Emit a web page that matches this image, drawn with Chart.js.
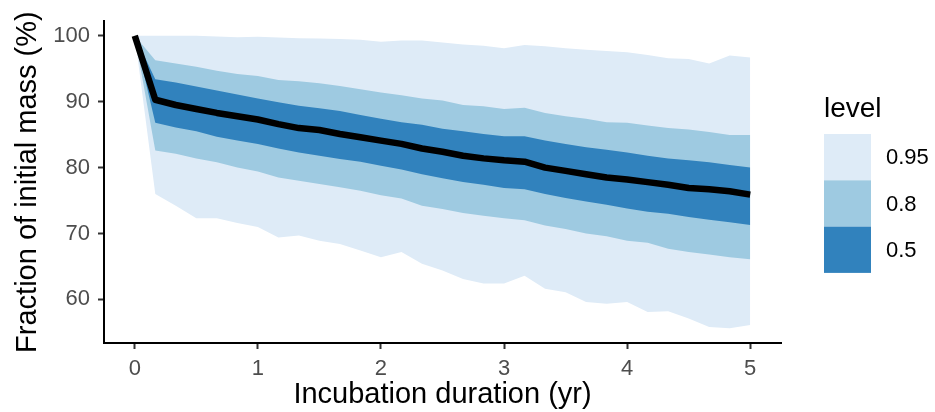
<!DOCTYPE html>
<html>
<head>
<meta charset="utf-8">
<script src="https://cdn.jsdelivr.net/npm/chart.js@4.4.1/dist/chart.umd.min.js"></script>
<style>
	html, body { margin: 0; padding: 0; background: #ffffff; }
	#wrap { width: 935px; height: 412px; position: relative; }
</style>
</head>
<body>
<div id="wrap"><canvas id="chart" width="935" height="412"></canvas></div>
<script>
//incubation time points, every two months
var years = [0, 0.1667, 0.3333, 0.5, 0.6667, 0.8333, 1, 1.1667, 1.3333, 1.5, 1.6667, 1.8333,
	2, 2.1667, 2.3333, 2.5, 2.6667, 2.8333, 3, 3.1667, 3.3333, 3.5, 3.6667, 3.8333,
	4, 4.1667, 4.3333, 4.5, 4.6667, 4.8333, 5];

//median fraction of initial mass (%)
var median = [100, 90.3, 89.5, 88.9, 88.3, 87.8, 87.3, 86.6, 86.0, 85.7, 85.1, 84.6,
	84.1, 83.6, 82.9, 82.4, 81.8, 81.4, 81.1, 80.9, 80.0, 79.5, 79.0, 78.5,
	78.2, 77.8, 77.4, 76.9, 76.7, 76.4, 75.9];

//interval bounds
var upper50 = [100, 93.4, 92.9, 92.3, 91.7, 91.1, 90.5, 89.9, 89.4, 89.0, 88.6, 88.0,
	87.4, 86.9, 86.5, 85.9, 85.5, 85.1, 84.75, 84.75, 84.1, 83.6, 83.1, 82.7,
	82.3, 81.8, 81.4, 81.1, 80.8, 80.4, 80.0];
var lower50 = [100, 86.8, 86.1, 85.5, 84.7, 84.1, 83.6, 82.9, 82.3, 81.8, 81.3, 80.9,
	80.3, 79.7, 79.0, 78.4, 77.8, 77.4, 76.9, 76.7, 76.0, 75.4, 74.85, 74.35,
	73.8, 73.3, 73.0, 72.5, 72.1, 71.7, 71.3];
var upper80 = [100, 96.3, 95.8, 95.3, 94.7, 94.2, 93.9, 93.3, 93.1, 92.8, 92.4, 91.9,
	91.4, 91.0, 90.5, 90.2, 89.5, 89.3, 88.9, 89.1, 88.3, 87.8, 87.4, 86.9,
	86.8, 86.4, 86.0, 85.8, 85.4, 84.95, 84.95];
var lower80 = [100, 82.6, 82.1, 81.4, 80.8, 80.0, 79.4, 78.5, 78.0, 77.5, 77.0, 76.5,
	75.8, 75.3, 74.2, 73.7, 73.1, 72.7, 72.3, 72.0, 71.2, 70.7, 70.0, 69.6,
	68.9, 68.6, 67.7, 67.2, 66.8, 66.4, 66.1];
var upper95 = [100, 100, 100, 100, 99.9, 99.8, 99.85, 99.75, 99.65, 99.6, 99.5, 99.4,
	99.1, 99.3, 99.3, 99.0, 98.7, 98.5, 98.1, 98.6, 98.4, 98.1, 97.9, 97.7,
	97.5, 97.1, 96.6, 96.5, 95.8, 97.0, 96.7];
var lower95 = [100, 76.0, 74.2, 72.3, 72.3, 71.6, 71.0, 69.4, 69.7, 68.9, 68.4, 67.4,
	66.4, 67.2, 65.4, 64.4, 63.1, 62.4, 62.4, 63.6, 61.6, 61.1, 59.6, 59.35,
	59.6, 58.1, 58.2, 57.1, 55.8, 55.6, 56.1];

var xTicks = [0, 1, 2, 3, 4, 5];
var yTicks = [60, 70, 80, 90, 100];

var levels = ["0.95", "0.8", "0.5"];
var levelColors = ["#deebf7", "#9ecae1", "#3182bd"];

var fontFamily = "'Liberation Sans', Arial, Helvetica, sans-serif";

function toPoints(values) {
	var pts = [];
	for (var i = 0; i < years.length; i++) {
		pts.push({ x: years[i], y: values[i] });
	}
	return pts;
}

function band(values, color, target, order) {
	return {
		data: toPoints(values),
		borderColor: "rgba(0,0,0,0)",
		borderWidth: 0,
		backgroundColor: color,
		pointRadius: 0,
		fill: target,
		order: order
	};
}

function edge(values) {
	return {
		data: toPoints(values),
		borderColor: "rgba(0,0,0,0)",
		borderWidth: 0,
		pointRadius: 0,
		fill: false,
		order: 9
	};
}

//legend drawn as stacked boxes like ggplot's guide
var levelLegend = {
	id: "levelLegend",
	afterDraw: function(chart) {
		var ctx = chart.ctx;
		ctx.save();
		ctx.fillStyle = "#000000";
		ctx.font = "28px " + fontFamily;
		ctx.textBaseline = "alphabetic";
		ctx.textAlign = "left";
		ctx.fillText("level", 824, 117);

		var boxTop = 134;
		var boxH = 46.3;
		ctx.font = "22px " + fontFamily;
		ctx.textBaseline = "middle";
		for (var i = 0; i < levels.length; i++) {
			ctx.fillStyle = levelColors[i];
			ctx.fillRect(824, boxTop + i * boxH, 47, boxH);
			ctx.fillStyle = "#000000";
			ctx.fillText(levels[i], 886, boxTop + i * boxH + boxH / 2 + 1);
		}
		ctx.restore();
	}
};

var ctx = document.getElementById("chart").getContext("2d");

var myChart = new Chart(ctx, {
	type: "line",
	data: {
		datasets: [
			{
				data: toPoints(median),
				borderColor: "#000000",
				borderWidth: 6.5,
				borderJoinStyle: "round",
				pointRadius: 0,
				fill: false,
				order: 0
			},
			band(upper50, levelColors[2], 4, 1),
			band(upper80, levelColors[1], 5, 2),
			band(upper95, levelColors[0], 6, 3),
			edge(lower50),
			edge(lower80),
			edge(lower95)
		]
	},
	options: {
		responsive: false,
		animation: false,
		layout: {
			padding: { left: 0, right: 154, top: 20, bottom: 0 }
		},
		plugins: {
			legend: { display: false },
			tooltip: { enabled: false }
		},
		scales: {
			x: {
				type: "linear",
				min: -0.25,
				max: 5.25,
				afterBuildTicks: function(scale) {
					scale.ticks = xTicks.map(function(v) { return { value: v }; });
				},
				afterFit: function(scale) {
					scale.height = 69;
				},
				grid: {
					drawOnChartArea: false,
					drawTicks: true,
					tickLength: 6,
					tickColor: "#333333",
					tickWidth: 2
				},
				border: { display: true, color: "#000000", width: 2 },
				ticks: {
					color: "#4d4d4d",
					font: { family: fontFamily, size: 22 },
					padding: 7,
					maxRotation: 0
				},
				title: {
					display: true,
					text: "Incubation duration (yr)",
					color: "#000000",
					font: { family: fontFamily, size: 29 },
					padding: { top: 0, bottom: 0 }
				}
			},
			y: {
				type: "linear",
				min: 53.38,
				max: 102.22,
				afterBuildTicks: function(scale) {
					scale.ticks = yTicks.map(function(v) { return { value: v }; });
				},
				afterFit: function(scale) {
					scale.width = 104;
				},
				grid: {
					drawOnChartArea: false,
					drawTicks: true,
					tickLength: 6,
					tickColor: "#333333",
					tickWidth: 2
				},
				border: { display: true, color: "#000000", width: 2 },
				ticks: {
					color: "#4d4d4d",
					font: { family: fontFamily, size: 22 },
					padding: 8
				},
				title: {
					display: true,
					text: "Fraction of initial mass (%)",
					color: "#000000",
					font: { family: fontFamily, size: 29 },
					padding: { top: 11, bottom: 0 }
				}
			}
		}
	},
	plugins: [levelLegend]
});
</script>
</body>
</html>
